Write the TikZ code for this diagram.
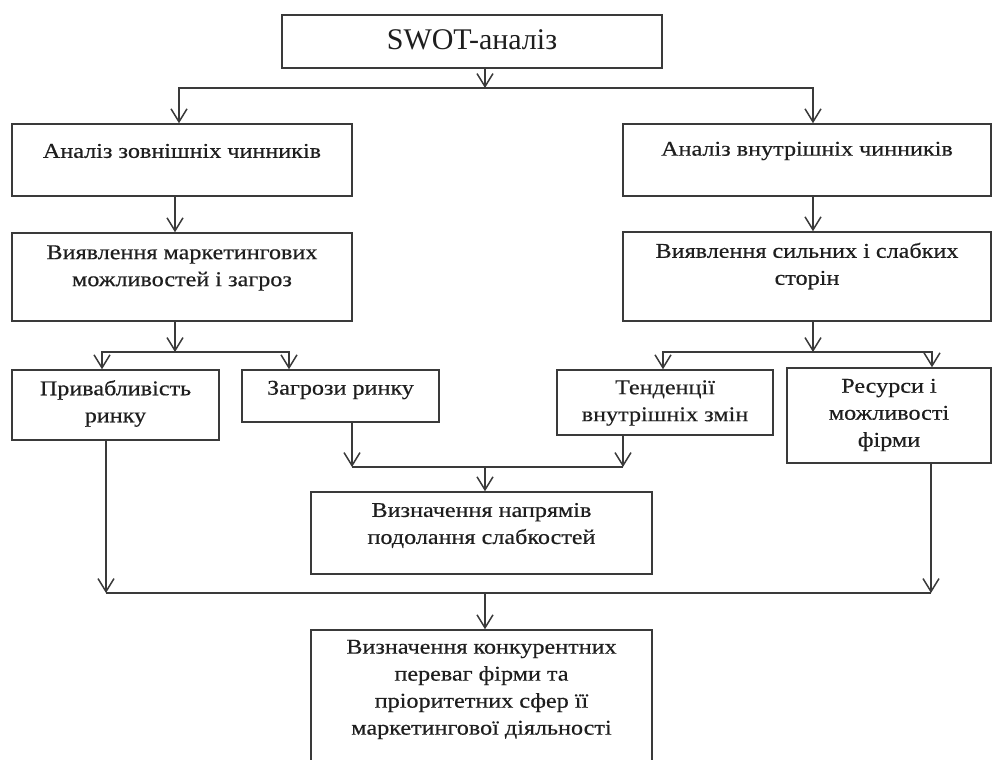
\documentclass[tikz,border=0pt]{standalone}
\usepackage{fontspec}
\setmainfont{Liberation Serif}
\newfontfamily\bodyfont{Liberation Serif}[FakeStretch=1.15, FakeBold=0.4]
\usetikzlibrary{arrows.meta}
\definecolor{linec}{HTML}{3A3A3A}
\definecolor{txtc}{HTML}{1E1E1E}
\begin{document}
\begin{tikzpicture}[x=1pt,y=-1pt,
  box/.style={draw=linec, line width=1.5pt, inner sep=0pt},
  lbl/.style={text=txtc, align=center, inner sep=0pt, font=\bodyfont\fontsize{21}{27}\selectfont},
  conn/.style={draw=linec, line width=1.5pt},
  arr/.style={conn, -{Straight Barb[length=13pt,width=16pt]}}]
\useasboundingbox (0,0) rectangle (993,760);
\clip (0,0) rectangle (993,760);

% boxes
\node[box, minimum width=380pt, minimum height=53pt] (swot) at (472,41.5) {};
\node[box, minimum width=340pt, minimum height=72pt] (ext)  at (182,160) {};
\node[box, minimum width=368pt, minimum height=72pt] (int)  at (807,160) {};
\node[box, minimum width=340pt, minimum height=88pt] (mkt)  at (182,277) {};
\node[box, minimum width=368pt, minimum height=89pt] (sw)   at (807,276.5) {};
\node[box, minimum width=207pt, minimum height=70pt] (attr) at (115.5,405) {};
\node[box, minimum width=197pt, minimum height=52pt] (thr)  at (340.5,396) {};
\node[box, minimum width=216pt, minimum height=65pt] (tend) at (665,402.5) {};
\node[box, minimum width=204pt, minimum height=95pt] (res)  at (889,415.5) {};
\node[box, minimum width=341pt, minimum height=82pt] (dir)  at (481.5,533) {};
\node[box, minimum width=341pt, minimum height=160pt] (fin) at (481.5,710) {};

% labels
\node[lbl, font=\rmfamily\fontsize{30}{34}\selectfont] (swotT) at (472,40) {SWOT-аналіз};
\node[lbl] (extT)  at (182,151) {Аналіз зовнішніх чинників};
\node[lbl] (intT)  at (807,151) {Аналіз внутрішніх чинників};
\node[lbl] (mktT)  at (182,268) {Виявлення маркетингових\\можливостей і загроз};
\node[lbl] (swT)   at (807,266) {Виявлення сильних і слабких\\сторін};
\node[lbl] (attrT) at (115.5,403.5) {Привабливість\\ринку};
\node[lbl] (thrT)  at (340.5,390) {Загрози ринку};
\node[lbl] (tendT) at (665,403) {Тенденції\\внутрішніх змін};
\node[lbl] (resT)  at (889,415) {Ресурси і\\можливості\\фірми};
\node[lbl] (dirT)  at (481.5,525.5) {Визначення напрямів\\подолання слабкостей};
\node[lbl] (finT)  at (481.5,689.5) {Визначення конкурентних\\переваг фірми та\\пріоритетних сфер її\\маркетингової діяльності};

% junction points
\coordinate (j1) at (485,88);
\coordinate (j2) at (175,352);
\coordinate (j3) at (813,352);
\coordinate (j4l) at (352,467);
\coordinate (j4r) at (623,467);
\coordinate (j4) at (485,467);
\coordinate (j5l) at (106,593);
\coordinate (j5r) at (931,593);
\coordinate (j5) at (485,593);

% connectors
\draw[arr] (swot.south -| j1) -- (j1);
\draw[arr] (j1) -| ([xshift=-3pt]ext.north);
\draw[arr] (j1) -| ([xshift=6pt]int.north);

\draw[arr] ([xshift=-7pt]ext.south) -- ([xshift=-7pt]mkt.north);
\draw[arr] ([xshift=6pt]int.south) -- ([xshift=6pt]sw.north);

\draw[arr] ([xshift=-7pt]mkt.south) -- (j2);
\draw[arr] (j2) -| ([xshift=-13.5pt]attr.north);
\draw[arr] (j2) -| ([xshift=-51.5pt]thr.north);

\draw[arr] ([xshift=6pt]sw.south) -- (j3);
\draw[arr] (j3) -| ([xshift=-2pt]tend.north);
\draw[arr] (j3) -| ([xshift=43pt]res.north);

\draw[arr] ([xshift=11.5pt]thr.south) -- (j4l);
\draw[arr] ([xshift=-42pt]tend.south) -- (j4r);
\draw[conn] (j4l) -- (j4r);
\draw[arr] (j4) -- ([xshift=3.5pt]dir.north);

\draw[arr] ([xshift=-9.5pt]attr.south) -- (j5l);
\draw[arr] ([xshift=42pt]res.south) -- (j5r);
\draw[conn] (j5l) -- (j5r);
\draw[arr] (j5) -- ([xshift=3.5pt]fin.north);
\end{tikzpicture}
\end{document}
